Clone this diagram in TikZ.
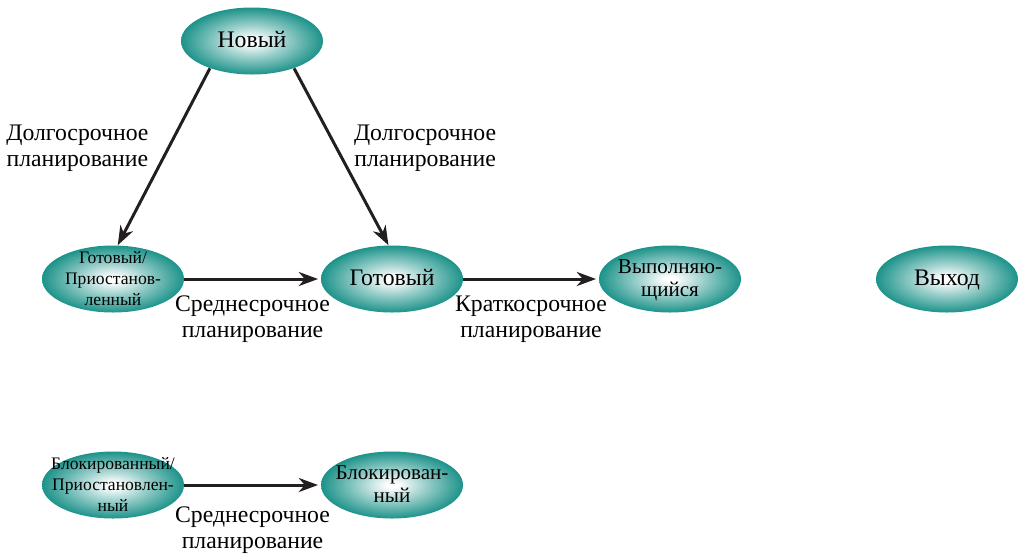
\documentclass[tikz,border=0pt]{standalone}
\usepackage{fontspec}
\setmainfont{Liberation Serif}
\usetikzlibrary{arrows.meta,shapes.geometric}
\definecolor{stateteal}{RGB}{0,133,123}
\definecolor{arrowgray}{RGB}{35,31,32}
\pgfdeclareradialshading{stateglow}{\pgfpoint{0bp}{0bp}}{color(0bp)=(white); color(2bp)=(white); color(12bp)=(stateteal!40!white); color(28bp)=(stateteal); color(50bp)=(stateteal!82!black)}
% text of a state, kept out of the ellipse size
\newcommand{\sttxt}[1]{\makebox[0pt]{\smash{\raisebox{-.3em}{\begin{tabular}{@{}c@{}}#1\end{tabular}}}}}

\begin{document}
\begin{tikzpicture}[x=.02cm, y=-.02cm, line join=round, line cap=round, font=\rmfamily,
	state/.style={ellipse, shade, shading=stateglow, minimum width=2.84cm, minimum height=1.34cm, inner sep=0pt},
	bigf/.style={font=\rmfamily\fontsize{13.5}{15}\selectfont},
	midf/.style={font=\rmfamily\fontsize{12}{13}\selectfont},
	smallf/.style={font=\rmfamily\fontsize{10}{12}\selectfont},
	conn/.style={draw=arrowgray, line width=1.7pt, line cap=butt, -{Stealth[length=11pt, width=8pt, inset=3.5pt]}},
	lbl/.style={align=center, font=\rmfamily\fontsize{13.5}{14.7}\selectfont, inner sep=2pt}]
	\useasboundingbox (0,0) rectangle (1020,556);
	% states
	\node[state, bigf] (new) at (252,41) {\sttxt{Новый}};
	\node[state, smallf] (rsus) at (113,279) {\sttxt{Готовый/\\Приостанов-\\ленный}};
	\node[state, bigf] (ready) at (392,279) {\sttxt{Готовый}};
	\node[state, midf] (run) at (670,279) {\sttxt{Выполняю-\\щийся}};
	\node[state, bigf] (exit) at (947,279) {\sttxt{Выход}};
	\node[state, smallf] (bsus) at (113,485) {\sttxt{Блокированный/\\Приостановлен-\\ный}};
	\node[state, midf] (blocked) at (392,485) {\sttxt{Блокирован-\\ный}};
	% transitions
	\draw[conn] (new.213) -- node[pos=.45, left=.3cm, lbl]{Долгосрочное\\планирование} (rsus.82);
	\draw[conn] (new.327) -- node[pos=.45, right=.25cm, lbl]{Долгосрочное\\планирование} (ready.96);
	\draw[conn, shorten >=1.5pt] (rsus.east) -- node[below=.24cm, lbl]{Среднесрочное\\планирование} (ready.west);
	\draw[conn, shorten >=1.5pt] (ready.east) -- node[below=.24cm, lbl]{Краткосрочное\\планирование} (run.west);
	\draw[conn, shorten >=1.5pt] (bsus.east) -- node[below=.34cm, lbl]{Среднесрочное\\планирование} (blocked.west);
\end{tikzpicture}
\end{document}
